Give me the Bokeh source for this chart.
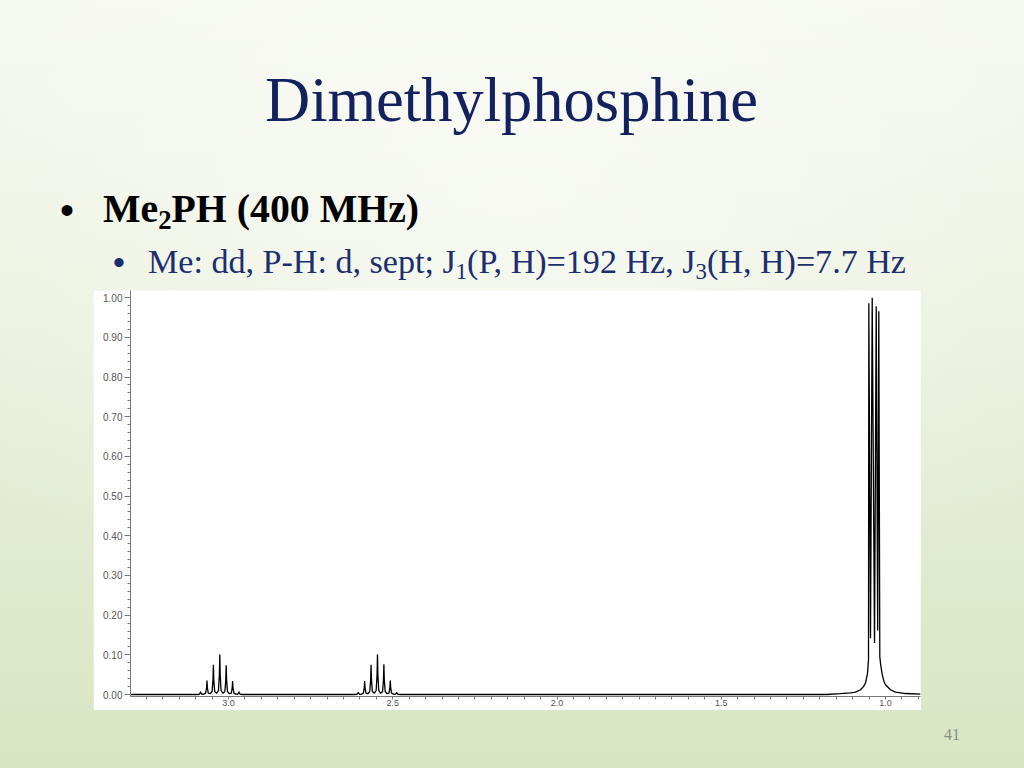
from bokeh.plotting import figure
from bokeh.models import Range1d, FixedTicker, PrintfTickFormatter, Div, Spacer
from bokeh.layouts import column, row
from bokeh.embed import file_html
from bokeh.resources import INLINE

# ---------------- data ----------------
slide_title = "Dimethylphosphine"
bullet_1 = ["Me", "2", "PH (400 MHz)"]
bullet_2 = ["Me: dd, P-H: d, sept; J", "1", "(P, H)=192 Hz, J", "3", "(H, H)=7.7 Hz"]
page_number = "41"

# spectrum trace (chemical shift in ppm, relative intensity)
spectrum_ppm = [
    3.2983, 3.0950,
    3.0890, 3.0862, 3.0850, 3.0838, 3.0810, 3.0752,
    3.0695, 3.0667, 3.0655, 3.0643, 3.0615, 3.0557,
    3.0500, 3.0472, 3.0460, 3.0448, 3.0420, 3.0362,
    3.0305, 3.0277, 3.0265, 3.0253, 3.0225, 3.0167,
    3.0110, 3.0082, 3.0070, 3.0058, 3.0030, 2.9972,
    2.9915, 2.9887, 2.9875, 2.9863, 2.9835, 2.9777,
    2.9720, 2.9692, 2.9680, 2.9668, 2.9640, 2.9580,
    2.6150,
    2.6090, 2.6062, 2.6050, 2.6038, 2.6010, 2.5952,
    2.5895, 2.5867, 2.5855, 2.5843, 2.5815, 2.5757,
    2.5700, 2.5672, 2.5660, 2.5648, 2.5620, 2.5562,
    2.5505, 2.5477, 2.5465, 2.5453, 2.5425, 2.5367,
    2.5310, 2.5282, 2.5270, 2.5258, 2.5230, 2.5172,
    2.5115, 2.5087, 2.5075, 2.5063, 2.5035, 2.4977,
    2.4920, 2.4892, 2.4880, 2.4868, 2.4840, 2.4780,
    1.1800, 1.1370, 1.1065, 1.0913, 1.0761, 1.0670, 1.0609, 1.0548, 1.0518,
    1.0508, 1.0457, 1.0405, 1.0335, 1.0283, 1.0238, 1.0204,
    1.0174, 1.0152, 1.0100, 1.0046, 1.0000, 0.9848, 0.9696, 0.9391, 0.8935,
]
spectrum_int = [
    0.0, 0.0,
    0.0007, 0.0035, 0.007, 0.0035, 0.0007, 0.001,
    0.0035, 0.0175, 0.035, 0.0175, 0.0035, 0.002,
    0.0075, 0.0375, 0.075, 0.0375, 0.0075, 0.003,
    0.0101, 0.0505, 0.101, 0.0505, 0.0101, 0.003,
    0.0074, 0.037, 0.074, 0.037, 0.0074, 0.002,
    0.0034, 0.017, 0.034, 0.017, 0.0034, 0.001,
    0.0007, 0.0035, 0.007, 0.0035, 0.0007, 0.0,
    0.0,
    0.0006, 0.003, 0.006, 0.003, 0.0006, 0.001,
    0.0034, 0.017, 0.034, 0.017, 0.0034, 0.002,
    0.0075, 0.0375, 0.075, 0.0375, 0.0075, 0.003,
    0.0101, 0.0505, 0.101, 0.0505, 0.0101, 0.003,
    0.0076, 0.038, 0.076, 0.038, 0.0076, 0.002,
    0.0035, 0.0175, 0.035, 0.0175, 0.0035, 0.001,
    0.0006, 0.003, 0.006, 0.003, 0.0006, 0.0,
    0.0, 0.002, 0.004, 0.006, 0.012, 0.020, 0.029, 0.053, 0.088,
    0.986, 0.1415, 1.000, 0.130, 0.978, 0.161, 0.966,
    0.096, 0.078, 0.050, 0.033, 0.0245, 0.012, 0.006, 0.0025, 0.001,
]

x_label_ticks = [3.0, 2.5, 2.0, 1.5, 1.0]
x_small_ticks = [3.25, 3.2, 3.15, 3.1, 3.05, 2.95, 2.9, 2.85, 2.8, 2.75, 2.7, 2.65, 2.6,
                 2.55, 2.45, 2.4, 2.35, 2.3, 2.25, 2.2, 2.15, 2.1, 2.05, 1.95, 1.9,
                 1.85, 1.8, 1.75, 1.7, 1.65, 1.6, 1.55, 1.45, 1.4, 1.35, 1.3, 1.25,
                 1.2, 1.15, 1.1, 1.05, 0.95, 0.9]
y_label_ticks = [0.0, 0.1, 0.2, 0.3, 0.4, 0.5, 0.6, 0.7, 0.8, 0.9, 1.0]
y_small_ticks = [round(0.02 * i, 2) for i in range(51) if i % 5 != 0]

# ---------------- spectrum figure ----------------
p = figure(width=828, height=420, output_backend="svg", toolbar_location=None,
           x_range=Range1d(3.2983, 0.8935), y_range=Range1d(-0.005, 1.018),
           min_border_left=37, min_border_right=1, min_border_top=0, min_border_bottom=14)
p.background_fill_color = "white"
p.border_fill_color = "white"
p.outline_line_color = None
p.xgrid.visible = False
p.ygrid.visible = False

p.line(spectrum_ppm, spectrum_int, line_color="black", line_width=1.3)

ax = p.xaxis[0]
ax.ticker = FixedTicker(ticks=x_label_ticks, minor_ticks=x_small_ticks)
ax.formatter = PrintfTickFormatter(format="%.1f")
ax.axis_line_color = "#777777"
ax.major_tick_line_color = "#777777"
ax.minor_tick_line_color = "#777777"
ax.major_tick_in = 0
ax.major_tick_out = 3
ax.minor_tick_in = 0
ax.minor_tick_out = 3
ax.major_label_standoff = 0
ax.major_label_text_font = "Liberation Sans"
ax.major_label_text_font_size = "9px"
ax.major_label_text_color = "#555555"

ay = p.yaxis[0]
ay.ticker = FixedTicker(ticks=y_label_ticks, minor_ticks=y_small_ticks)
ay.formatter = PrintfTickFormatter(format="%.2f")
ay.axis_line_color = "#777777"
ay.major_tick_line_color = "#777777"
ay.minor_tick_line_color = "#777777"
ay.major_tick_in = 0
ay.major_tick_out = 6
ay.minor_tick_in = 0
ay.minor_tick_out = 3
ay.major_label_standoff = 2
ay.major_label_text_font = "Liberation Sans"
ay.major_label_text_font_size = "10px"
ay.major_label_text_color = "#555555"

# ---------------- slide text ----------------
sub = "font-size:0.67em;position:relative;top:0.25em;"
top_html = f"""
<div style="position:relative;width:1024px;height:290px;font-family:'Liberation Serif',serif;">
  <div style="position:absolute;left:265px;top:69px;font-size:62.5px;line-height:62.5px;white-space:nowrap;
              color:#14215f;">{slide_title}</div>
  <div style="position:absolute;left:60px;top:190px;font-size:40px;line-height:40px;color:#000;
              font-family:'Liberation Sans',sans-serif;">&bull;</div>
  <div style="position:absolute;left:103px;top:190px;font-size:39.8px;line-height:39.8px;white-space:nowrap;
              font-weight:bold;color:#000;">{bullet_1[0]}<span style="{sub}">{bullet_1[1]}</span>{bullet_1[2]}</div>
  <div style="position:absolute;left:113px;top:245px;font-size:34px;line-height:34px;color:#1b2f6e;
              font-family:'Liberation Sans',sans-serif;">&bull;</div>
  <div style="position:absolute;left:148px;top:245px;font-size:34.1px;line-height:34.1px;white-space:nowrap;
              color:#1b2f6e;">{bullet_2[0]}<span style="{sub}">{bullet_2[1]}</span>{bullet_2[2]}<span style="{sub}">{bullet_2[3]}</span>{bullet_2[4]}</div>
</div>
"""
bottom_html = f"""
<div style="position:relative;width:1024px;height:58px;font-family:'Liberation Serif',serif;">
  <div style="position:absolute;left:944px;top:17px;font-size:16px;line-height:16px;color:#8a8f84;">{page_number}</div>
</div>
"""
top_div = Div(text=top_html, width=1024, height=290, margin=0)
bottom_div = Div(text=bottom_html, width=1024, height=58, margin=0)

mid = row(Spacer(width=93, height=420, margin=0), p, Spacer(width=103, height=420, margin=0),
          spacing=0, margin=0)
layout = column(top_div, mid, bottom_div, spacing=0, margin=0, width=1024, height=768,
                styles={"background": "radial-gradient(ellipse 70% 60% at 50% 25%, rgba(255,255,255,0.55), rgba(255,255,255,0) 100%), linear-gradient(to bottom, #f5f8ef 0%, #e9f0dc 45%, #d8e5c2 100%)"})

open("out.html", "w").write(file_html(layout, INLINE))
